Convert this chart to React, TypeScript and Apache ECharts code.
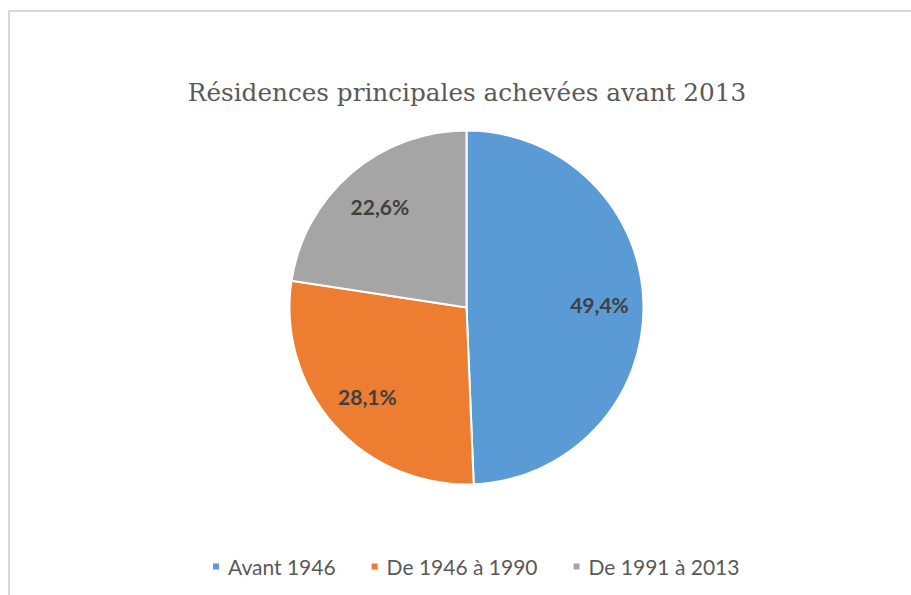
import React, { useEffect, useRef } from "react";
import * as echarts from "echarts";

const titleText = "Résidences principales achevées avant 2013";
const categories = ["Avant 1946", "De 1946 à 1990", "De 1991 à 2013"];
const shares = [49.4, 28.1, 22.6];
const colors = ["#5b9bd5", "#ed7d31", "#a5a5a5"];

export default function App() {
  const ref = useRef<HTMLDivElement>(null);
  useEffect(() => {
    if (!ref.current) return;
    const chart = echarts.init(ref.current, null, { renderer: "svg" });
    const data = categories.map((name, i) => ({
      name,
      value: shares[i],
      itemStyle: { color: colors[i] },
    }));
    const fmt = (p: any) => p.value.toFixed(1).replace(".", ",") + "%";
    chart.setOption({
      animation: false,
      backgroundColor: "#ffffff",
      title: {
        text: titleText,
        left: 462,
        top: 75,
        textAlign: "center",
        textStyle: {
          fontFamily: "DejaVu Serif",
          fontSize: 24.7,
          fontWeight: "normal",
          color: "#595959",
        },
      },
      legend: {
        data: categories,
        left: 206,
        top: 551,
        icon: "rect",
        itemWidth: 8,
        itemHeight: 8,
        itemGap: 34,
        textStyle: {
          fontFamily: "Lato",
          fontSize: 21,
          color: "#595959",
          padding: [0, 0, 0, 3],
        },
        selectedMode: false,
      },
      graphic: [
        {
          type: "rect",
          shape: { x: 9, y: 11, width: 1000, height: 1000 },
          style: { fill: "none", stroke: "#d9d9d9", lineWidth: 2 },
          silent: true,
          z: -1,
        },
      ],
      series: [
        {
          type: "pie",
          center: [466.5, 307.5],
          radius: 177,
          startAngle: 90,
          clockwise: true,
          data,
          label: { show: false },
          labelLine: { show: false },
          itemStyle: { borderColor: "#ffffff", borderWidth: 2 },
          silent: true,
        },
        {
          type: "pie",
          center: [466.5, 307.5],
          radius: [86, 174],
          startAngle: 90,
          clockwise: true,
          data: categories.map((name, i) => ({ name, value: shares[i] })),
          itemStyle: { color: "rgba(0,0,0,0)" },
          label: {
            show: true,
            position: "inside",
            formatter: fmt,
            fontFamily: "Lato",
            fontWeight: "bold",
            fontSize: 21,
            color: "#404040",
          },
          labelLine: { show: false },
          silent: true,
        },
      ],
    });
    return () => chart.dispose();
  }, []);
  return (
    <div
      ref={ref}
      style={{ position: "absolute", left: 0, top: 0, width: 911, height: 595 }}
    />
  );
}
